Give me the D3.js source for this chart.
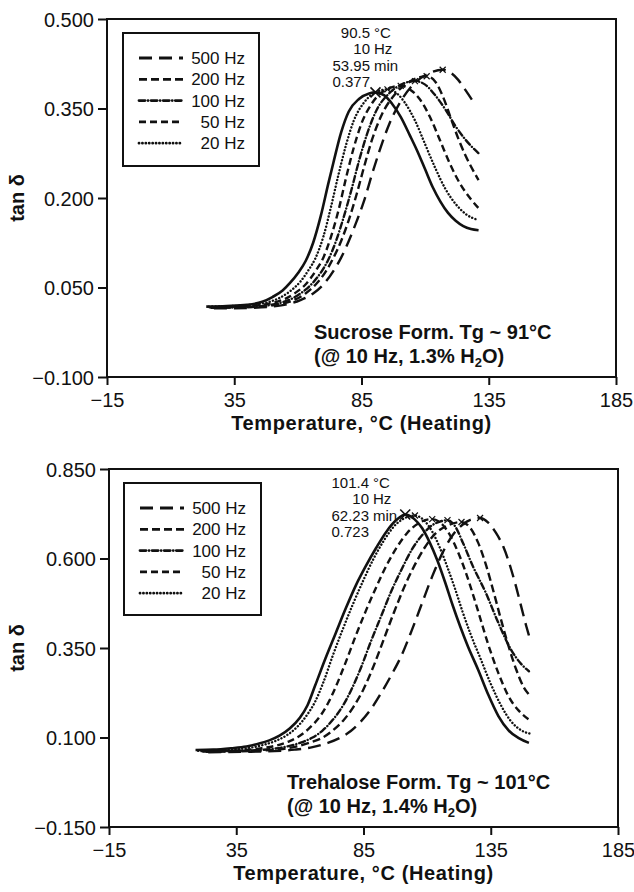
<!DOCTYPE html>
<html>
<head>
<meta charset="utf-8">
<script src="https://cdnjs.cloudflare.com/ajax/libs/d3/7.8.5/d3.min.js"></script>
<style>
  body { margin: 0; background: #fff; }
  text { font-family: "Liberation Sans", Arial, Helvetica, sans-serif; fill: #111; }
</style>
</head>
<body>
<svg id="chart" width="634" height="892"></svg>
<script>
// legend order (top to bottom) and axis ticks
var legendFreqs = [500, 200, 100, 50, 20];
var xTicks = [-15, 35, 85, 135, 185];
var sucroseYTicks = [-0.1, 0.05, 0.2, 0.35, 0.5];
var trehaloseYTicks = [-0.15, 0.1, 0.35, 0.6, 0.85];

// Sucrose formulation, [temperature C, tan delta]
var sucrose10 = [[24,0.018],[32,0.019],[40,0.021],[46,0.026],[50,0.034],[54,0.045],[57,0.058],[60,0.074],[63,0.094],[66,0.125],[69,0.17],[72,0.225],[74,0.26],[77,0.31],[80,0.345],[84,0.366],[88,0.375],[90.5,0.377],[94,0.372],[97,0.358],[100.4,0.336],[104,0.305],[107,0.278],[110,0.248],[113,0.218],[116,0.194],[119,0.175],[122,0.162],[125,0.153],[128,0.148],[131,0.146]];
var sucrose20 = [[25,0.018],[35,0.019],[42,0.021],[48,0.025],[53,0.033],[57,0.044],[61,0.06],[64,0.078],[67,0.1],[70,0.135],[73,0.185],[76,0.24],[79,0.29],[82,0.33],[86,0.36],[90,0.376],[95.2,0.382],[99,0.375],[102,0.36],[106,0.33],[110,0.29],[114,0.25],[118,0.215],[122,0.19],[126,0.173],[131,0.163]];
var sucrose50 = [[25,0.017],[36,0.018],[44,0.02],[50,0.024],[55,0.031],[59,0.041],[63,0.055],[67,0.078],[70,0.1],[73,0.135],[76,0.18],[79,0.235],[82,0.285],[85,0.325],[89,0.358],[94,0.38],[100.4,0.388],[104,0.382],[108,0.365],[112,0.335],[116,0.295],[120,0.255],[124,0.222],[128,0.198],[131,0.183]];
var sucrose100 = [[26,0.016],[38,0.017],[46,0.019],[52,0.023],[57,0.03],[61,0.04],[65,0.054],[69,0.075],[72,0.097],[75,0.128],[78,0.168],[81,0.213],[84,0.262],[87,0.305],[91,0.348],[96,0.376],[101,0.391],[106,0.396],[110,0.39],[114,0.372],[118,0.348],[122,0.32],[126,0.297],[131,0.275]];
var sucrose200 = [[26,0.016],[40,0.017],[48,0.019],[54,0.023],[59,0.03],[63,0.04],[67,0.055],[71,0.077],[74,0.1],[77,0.128],[80,0.163],[83,0.205],[86,0.252],[89,0.296],[93,0.34],[98,0.373],[104,0.395],[110.6,0.404],[114,0.395],[117,0.37],[120,0.335],[123,0.3],[126,0.27],[129,0.245],[131,0.23]];
var sucrose500 = [[27,0.015],[42,0.016],[50,0.018],[56,0.022],[61,0.029],[66,0.04],[70,0.055],[74,0.078],[77,0.1],[80,0.128],[83,0.16],[86,0.195],[89,0.238],[92,0.278],[96,0.325],[101,0.366],[106,0.393],[111,0.408],[116.9,0.415],[120,0.41],[123,0.398],[126,0.38],[128.5,0.364]];

// Trehalose formulation
var trehalose10 = [[19,0.065],[26,0.066],[33,0.07],[39,0.075],[44,0.083],[48,0.092],[52,0.105],[56,0.125],[60,0.155],[63,0.19],[66,0.245],[70,0.32],[74,0.39],[78,0.46],[82,0.525],[86,0.58],[90,0.63],[94,0.675],[98,0.708],[101.4,0.723],[105,0.71],[108,0.685],[111,0.645],[114,0.595],[117,0.535],[120,0.47],[123,0.41],[126,0.355],[130,0.29],[134,0.22],[138,0.16],[142,0.12],[146,0.098],[150,0.085]];
var trehalose20 = [[20,0.063],[28,0.064],[35,0.067],[41,0.072],[46,0.08],[51,0.092],[55,0.107],[59,0.13],[63,0.165],[66,0.2],[69,0.25],[73,0.33],[77,0.405],[81,0.475],[85,0.54],[89,0.6],[93,0.65],[97,0.69],[101,0.712],[105.2,0.72],[109,0.705],[112,0.675],[115,0.63],[118,0.575],[121,0.515],[124,0.45],[127,0.39],[131,0.32],[135,0.25],[139,0.19],[143,0.145],[147,0.12],[151,0.11]];
var trehalose50 = [[21,0.062],[30,0.063],[38,0.065],[45,0.07],[51,0.078],[56,0.09],[60,0.105],[64,0.128],[68,0.16],[71,0.195],[74,0.24],[78,0.31],[82,0.385],[86,0.455],[90,0.52],[94,0.58],[98,0.63],[102,0.67],[107,0.7],[112,0.71],[116,0.695],[119,0.665],[122,0.62],[125,0.565],[128,0.5],[131,0.43],[134,0.36],[138,0.28],[142,0.215],[146,0.175],[150,0.15]];
var trehalose100 = [[22,0.061],[32,0.062],[41,0.064],[49,0.068],[55,0.075],[60,0.085],[65,0.1],[69,0.12],[73,0.15],[77,0.19],[80,0.23],[84,0.295],[88,0.37],[92,0.44],[96,0.51],[100,0.57],[104,0.625],[108,0.665],[112,0.693],[115,0.703],[118,0.707],[121,0.69],[124,0.645],[128,0.578],[133,0.505],[138,0.42],[143,0.345],[147,0.305],[150,0.285]];
var trehalose200 = [[23,0.06],[34,0.061],[44,0.063],[52,0.067],[58,0.074],[64,0.086],[69,0.1],[73,0.12],[77,0.147],[81,0.185],[85,0.235],[89,0.3],[93,0.375],[97,0.45],[101,0.52],[105,0.58],[109,0.63],[113,0.668],[118,0.692],[123.5,0.702],[127,0.685],[130,0.645],[133,0.585],[136,0.51],[139,0.43],[142,0.355],[145,0.29],[148,0.24],[150,0.22]];
var trehalose500 = [[24,0.059],[38,0.06],[50,0.062],[58,0.066],[65,0.073],[71,0.085],[76,0.1],[80,0.118],[84,0.145],[88,0.18],[92,0.225],[96,0.275],[100,0.33],[104,0.4],[108,0.475],[112,0.55],[116,0.615],[120,0.665],[124,0.695],[127,0.708],[130.8,0.713],[134,0.7],[137,0.672],[140,0.632],[143,0.57],[145,0.52],[147,0.465],[149,0.41],[150,0.385]];

// peak readout of the 10 Hz curve
var sucrosePeakLines = [["90.5", "\u00b0C"], ["10", "Hz"], ["53.95", "min"], ["0.377", ""]];
var trehalosePeakLines = [["101.4", "\u00b0C"], ["10", "Hz"], ["62.23", "min"], ["0.723", ""]];

// line style for each frequency
var dashFor = {
  10: null,
  20: "0.1,3.3",
  50: "7,4",
  100: "6,3,0.1,3",
  200: "8,4",
  500: "13,7"
};

var svg = d3.select("#chart");

drawPanel({
  left: 107, right: 616, top: 19, bottom: 377,
  yDomain: [-0.1, 0.5], yTicks: sucroseYTicks,
  series: [[10, sucrose10], [20, sucrose20], [50, sucrose50], [100, sucrose100], [200, sucrose200], [500, sucrose500]],
  peakLines: sucrosePeakLines, peakTextX: 370,
  legend: { x: 123, y: 33, w: 136, h: 133 },
  captionX: 314, captionY: 339,
  caption: ["Sucrose Form. Tg ~ 91\u00b0C", "1.3%"]
});

drawPanel({
  left: 109, right: 618, top: 469, bottom: 827,
  yDomain: [-0.15, 0.85], yTicks: trehaloseYTicks,
  series: [[10, trehalose10], [20, trehalose20], [50, trehalose50], [100, trehalose100], [200, trehalose200], [500, trehalose500]],
  peakLines: trehalosePeakLines, peakTextX: 369,
  legend: { x: 124, y: 483, w: 137, h: 132 },
  captionX: 287, captionY: 789,
  caption: ["Trehalose Form. Tg ~ 101\u00b0C", "1.4%"]
});

function drawPanel(p) {
  var g = svg.append("g");

  var x = d3.scaleLinear().domain([-15, 185]).range([p.left, p.right]);
  var y = d3.scaleLinear().domain(p.yDomain).range([p.bottom, p.top]);

  //frame
  g.append("rect")
    .attr("x", p.left).attr("y", p.top)
    .attr("width", p.right - p.left).attr("height", p.bottom - p.top)
    .attr("fill", "none").attr("stroke", "#111").attr("stroke-width", 2);

  var yAxis = d3.axisLeft(y).tickValues(p.yTicks).tickSize(9).tickPadding(4)
    .tickFormat(d3.format(".3f"));
  var yG = g.append("g").attr("transform", `translate(${p.left}, 0)`).call(yAxis);

  var xAxis = d3.axisBottom(x).tickValues(xTicks).tickSize(8).tickPadding(8)
    .tickFormat(d3.format("d"));
  var xG = g.append("g").attr("transform", `translate(0, ${p.bottom})`).call(xAxis);

  [yG, xG].forEach(function (a) {
    a.select(".domain").remove();
    a.selectAll(".tick line").attr("stroke", "#111").attr("stroke-width", 2);
    a.selectAll(".tick text")
      .attr("fill", "#111").style("font-size", "20px");
  });
  yG.selectAll(".tick text").attr("dy", "0.36em");

  // axis titles
  g.append("text")
    .attr("x", (p.left + p.right) / 2)
    .attr("y", p.bottom + 53)
    .attr("text-anchor", "middle")
    .style("font-size", "20px").style("font-weight", "bold")
    .style("letter-spacing", "0.6px")
    .text("Temperature, \u00b0C (Heating)");

  g.append("text")
    .attr("transform", `translate(24, ${(p.top + p.bottom) / 2}) rotate(-90)`)
    .attr("text-anchor", "middle")
    .style("font-size", "20px").style("font-weight", "bold")
    .text("tan \u03b4");

  var line = d3.line()
    .x((d) => x(d[0]))
    .y((d) => y(d[1]))
    .curve(d3.curveMonotoneX);

  _each(p.series, function (s) {
    var path = g.append("path")
      .datum(s[1])
      .attr("d", line)
      .attr("fill", "none")
      .attr("stroke", "#111")
      .attr("stroke-width", s[0] == 10 ? 2.6 : 2.4);
    if (dashFor[s[0]]) {
      path.attr("stroke-dasharray", dashFor[s[0]]);
      if (s[0] == 20 || s[0] == 100) path.attr("stroke-linecap", "round");
    }
    // little cross at every peak, big one on the 10 Hz curve
    var pk = d3.greatest(s[1], (d) => d[1]);
    var r = s[0] == 10 ? 5 : 3;
    var cx = x(pk[0]), cy = y(pk[1]);
    g.append("path")
      .attr("d", `M${cx - r},${cy - r}L${cx + r},${cy + r}M${cx - r},${cy + r}L${cx + r},${cy - r}`)
      .attr("stroke", "#111").attr("stroke-width", s[0] == 10 ? 1.6 : 1.2);
  });

  // peak readout
  _each(p.peakLines, function (l, i) {
    var ty = p.top + 19 + i * 16.3;
    g.append("text").attr("x", p.peakTextX).attr("y", ty)
      .attr("text-anchor", "end").style("font-size", "15px").text(l[0]);
    if (l[1]) {
      g.append("text").attr("x", p.peakTextX + 4).attr("y", ty)
        .style("font-size", "15px").text(l[1]);
    }
  });

  // legend
  var L = p.legend;
  var lg = g.append("g").attr("transform", `translate(${L.x}, ${L.y})`);
  lg.append("rect").attr("width", L.w).attr("height", L.h)
    .attr("fill", "#fff").attr("stroke", "#111").attr("stroke-width", 2);
  _each(legendFreqs, function (f, i) {
    var ly = 25 + i * 21.3;
    var ll = lg.append("line")
      .attr("x1", 16).attr("x2", 60).attr("y1", ly).attr("y2", ly)
      .attr("stroke", "#111").attr("stroke-width", 2.8)
      .attr("stroke-dasharray", dashFor[f]);
    if (f == 20 || f == 100) ll.attr("stroke-linecap", "round");
    lg.append("text").attr("x", 122).attr("y", ly + 6)
      .attr("text-anchor", "end").style("font-size", "17px")
      .text(f + " Hz");
  });

  // caption inside the plot
  var cap = g.append("g").style("font-size", "20px").style("font-weight", "bold");
  cap.append("text").attr("x", p.captionX).attr("y", p.captionY).text(p.caption[0]);
  var t2 = cap.append("text").attr("x", p.captionX).attr("y", p.captionY + 24);
  t2.append("tspan").text("(@ 10 Hz, " + p.caption[1] + " H");
  t2.append("tspan").attr("dy", 4).style("font-size", "13px").text("2");
  t2.append("tspan").attr("dy", -4).text("O)");
}

function _each(arr, fn) {
  arr.forEach(fn);
}
</script>
</body>
</html>
